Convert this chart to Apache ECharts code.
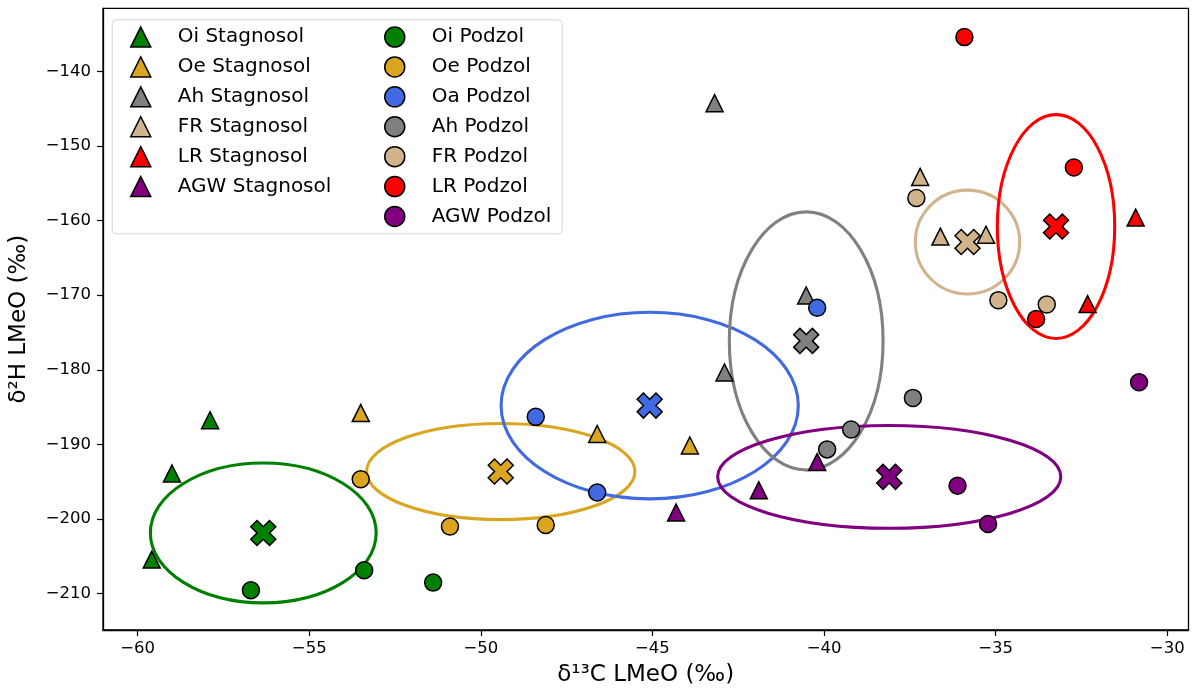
<!DOCTYPE html>
<html>
<head>
<meta charset="utf-8">
<script src="https://cdn.jsdelivr.net/npm/echarts@6/dist/echarts.min.js"></script>
<style>html,body{margin:0;padding:0;background:#fff}#c{width:1192px;height:692px}</style>
</head>
<body>
<div id="c"></div>
<script>
// ---------- data ----------
const stagnosolNames = ['Oi Stagnosol','Oe Stagnosol','Ah Stagnosol','FR Stagnosol','LR Stagnosol','AGW Stagnosol'];
const podzolNames = ['Oi Podzol','Oe Podzol','Oa Podzol','Ah Podzol','FR Podzol','LR Podzol','AGW Podzol'];

const oiStagnosol  = [[-57.89,-186.77],[-59.00,-193.90],[-59.59,-205.44]];
const oeStagnosol  = [[-53.50,-185.80],[-46.61,-188.61],[-43.91,-190.15]];
const ahStagnosol  = [[-43.19,-144.27],[-40.52,-170.04],[-42.90,-180.37]];
const frStagnosol  = [[-37.20,-154.15],[-36.61,-162.15],[-35.28,-161.90]];
const lrStagnosol  = [[-30.92,-159.60],[-32.32,-171.20]];
const agwStagnosol = [[-44.31,-199.13],[-41.90,-196.15],[-40.20,-192.37]];

const oiPodzol  = [[-56.70,-209.55],[-53.40,-206.88],[-51.39,-208.53]];
const oePodzol  = [[-53.50,-194.67],[-50.90,-201.00],[-48.11,-200.80]];
const oaPodzol  = [[-48.40,-186.31],[-46.61,-196.44],[-40.20,-171.68]];
const ahPodzol  = [[-37.41,-183.77],[-39.91,-190.67],[-39.21,-188.00]];
const frPodzol  = [[-37.31,-156.97],[-34.92,-170.67],[-33.51,-171.24]];
const lrPodzol  = [[-35.91,-135.41],[-32.72,-152.88],[-33.82,-173.20]];
const agwPodzol = [[-36.11,-195.55],[-35.22,-200.67],[-30.82,-181.68]];

const horizons  = ['Oi','Oe','Oa','Ah','FR','LR','AGW'];
const meanX     = [-56.34,-49.42,-45.08,-40.52,-35.82,-33.24,-38.10];
const meanY     = [-201.87,-193.64,-184.80,-176.13,-162.88,-160.80,-194.35];
const ellipseRx = [3.29,3.91,4.33,2.24,1.52,1.71,5.00];
const ellipseRy = [9.37,6.44,12.50,17.30,6.96,15.00,6.89];

const xTicks = [-60,-55,-50,-45,-40,-35,-30];
const yTicks = [-210,-200,-190,-180,-170,-160,-150,-140];

// ---------- styles ----------
const colors = {Oi:'#008000', Oe:'#DAA520', Oa:'#4169E1', Ah:'#808080', FR:'#D2B48C', LR:'#FF0000', AGW:'#800080'};
const FONT = 'DejaVu Sans';
const xMarker = 'path://M75,0L100,25L75,50L100,75L75,100L50,75L25,100L0,75L25,50L0,25L25,0L50,25Z';
const minus = v => String(v).replace('-', '\u2212');

function pts(name, horizon, symbol, data) {
  return {
    type: 'scatter', name: name, data: data, symbol: symbol, symbolSize: 17, z: 3,
    itemStyle: {color: colors[horizon], borderColor: '#000', borderWidth: 1.5, opacity: 1},
    emphasis: {disabled: true}, silent: true
  };
}

const ellipseData = horizons.map((h, i) => [meanX[i], meanY[i], ellipseRx[i], ellipseRy[i]]);
const meanData = horizons.map((h, i) => ({value: [meanX[i], meanY[i]], itemStyle: {color: colors[h]}}));

const legendCommon = {
  orient: 'vertical', top: 26.3, itemWidth: 20, itemHeight: 20, itemGap: 8.4, padding: 0,
  selectedMode: false,
  itemStyle: {borderColor: '#000', borderWidth: 1.5},
  textStyle: {fontFamily: FONT, fontSize: 20, lineHeight: 20, color: '#000', padding: [0, 0, 0, 22]}
};

const chart = echarts.init(document.getElementById('c'), null, {renderer: 'canvas'});
chart.setOption({
  animation: false,
  backgroundColor: '#fff',
  grid: {left: 101.7, right: 3.5, top: 8.3, bottom: 58.7, show: true, borderColor: '#000', borderWidth: 1.3, backgroundColor: 'transparent'},
  graphic: [{
    type: 'rect', z: 0, left: 111.7, top: 19.3,
    shape: {width: 450, height: 214, r: 4},
    style: {fill: 'rgba(255,255,255,0.8)', stroke: '#d6d6d6', lineWidth: 1}
  }],
  legend: [
    Object.assign({}, legendCommon, {left: 130, data: stagnosolNames}),
    Object.assign({}, legendCommon, {left: 384, data: podzolNames})
  ],
  xAxis: {
    type: 'value', min: -61.01, max: -29.38,
    name: 'δ¹³C LMeO (‰)', nameLocation: 'middle', nameGap: 34,
    nameTextStyle: {fontFamily: FONT, fontSize: 23, color: '#000'},
    axisLine: {show: true, lineStyle: {color: '#000', width: 1.3}},
    axisTick: {show: true, customValues: xTicks, length: 6, lineStyle: {color: '#000', width: 1.2}},
    axisLabel: {customValues: xTicks, formatter: minus, fontFamily: FONT, fontSize: 16.5, color: '#000', margin: 10},
    splitLine: {show: false}
  },
  yAxis: {
    type: 'value', min: -214.88, max: -131.55,
    name: 'δ²H LMeO (‰)', nameLocation: 'middle', nameGap: 72, nameRotate: 90,
    nameTextStyle: {fontFamily: FONT, fontSize: 23, color: '#000'},
    axisLine: {show: true, lineStyle: {color: '#000', width: 1.3}},
    axisTick: {show: true, customValues: yTicks, length: 6, lineStyle: {color: '#000', width: 1.2}},
    axisLabel: {customValues: yTicks, formatter: minus, fontFamily: FONT, fontSize: 16.5, color: '#000', margin: 12},
    splitLine: {show: false}
  },
  series: [
    {
      type: 'custom', name: 'ellipses', z: 1, silent: true, clip: true,
      data: ellipseData,
      renderItem: function (params, api) {
        const c = api.coord([api.value(0), api.value(1)]);
        const s = api.size([api.value(2), api.value(3)]);
        return {
          type: 'ellipse',
          shape: {cx: c[0], cy: c[1], rx: s[0], ry: s[1]},
          style: {fill: 'none', stroke: colors[horizons[params.dataIndex]], lineWidth: 3.1}
        };
      }
    },
    pts('Oi Stagnosol', 'Oi', 'triangle', oiStagnosol),
    pts('Oe Stagnosol', 'Oe', 'triangle', oeStagnosol),
    pts('Ah Stagnosol', 'Ah', 'triangle', ahStagnosol),
    pts('FR Stagnosol', 'FR', 'triangle', frStagnosol),
    pts('LR Stagnosol', 'LR', 'triangle', lrStagnosol),
    pts('Oi Podzol', 'Oi', 'circle', oiPodzol),
    pts('Oe Podzol', 'Oe', 'circle', oePodzol),
    pts('Oa Podzol', 'Oa', 'circle', oaPodzol),
    pts('Ah Podzol', 'Ah', 'circle', ahPodzol),
    pts('FR Podzol', 'FR', 'circle', frPodzol),
    pts('LR Podzol', 'LR', 'circle', lrPodzol),
    pts('AGW Stagnosol', 'AGW', 'triangle', agwStagnosol),
    pts('AGW Podzol', 'AGW', 'circle', agwPodzol),
    {
      type: 'scatter', name: 'Mean', data: meanData, symbol: xMarker, symbolSize: 25, z: 4,
      itemStyle: {borderColor: '#000', borderWidth: 1.5, opacity: 1},
      emphasis: {disabled: true}, silent: true
    }
  ]
});
</script>
</body>
</html>
